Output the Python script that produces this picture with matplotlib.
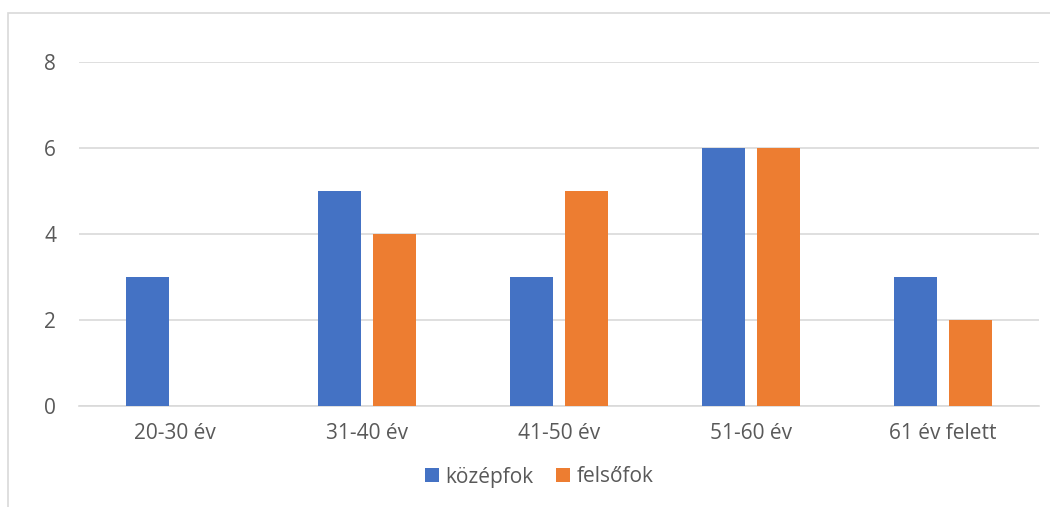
import matplotlib
matplotlib.use("Agg")
import matplotlib.pyplot as plt
from matplotlib.patches import Rectangle
import numpy as np

categories = ["20-30 év", "31-40 év", "41-50 év", "51-60 év", "61 év felett"]
kozepfok = [3, 5, 3, 6, 3]
felsofok = [0, 4, 5, 6, 2]
yticks = [0, 2, 4, 6, 8]

plt.rcParams['font.family'] = ['Open Sans', 'DejaVu Sans']
txt = '#595959'
grid = '#d9d9d9'

fig = plt.figure(figsize=(10.5, 5.07), dpi=100)
ax = fig.add_axes([79/1050, 1-406/507, 960/1050, (406-62)/507])

x = np.arange(len(categories))
w = 0.224
off = 0.143
ax.bar(x - off, kozepfok, w, color='#4472C4', label='középfok', zorder=3)
ax.bar(x + off, felsofok, w, color='#ED7D31', label='felsőfok', zorder=3)

ax.set_xlim(-0.5, len(categories) - 0.5)
ax.set_ylim(0, 8)
ax.set_yticks(yticks)
ax.set_xticks(x)
ax.set_xticklabels(categories)
ax.yaxis.grid(True, color=grid, linewidth=1.2, zorder=0)
for s in ['top', 'right', 'left']:
    ax.spines[s].set_visible(False)
ax.spines['bottom'].set_color(grid)
ax.spines['bottom'].set_linewidth(1.2)
ax.tick_params(axis='both', length=0, labelsize=15, colors=txt)
ax.tick_params(axis='y', pad=16.5)
ax.tick_params(axis='x', pad=12)

leg = fig.legend(loc='center', bbox_to_anchor=(539/1050, 1-477/507), ncol=2,
                 frameon=False, fontsize=15, handlelength=0.67, handleheight=0.67,
                 handletextpad=0.3, columnspacing=1.1)
for t in leg.get_texts():
    t.set_color(txt)

# chart border (left/top visible in crop)
fig.add_artist(Rectangle((8/1050, -0.05), 1.1, 1 - 13/507 + 0.05,
                         transform=fig.transFigure, fill=False,
                         edgecolor=grid, linewidth=1.2))

fig.savefig('out.png', dpi=100)
